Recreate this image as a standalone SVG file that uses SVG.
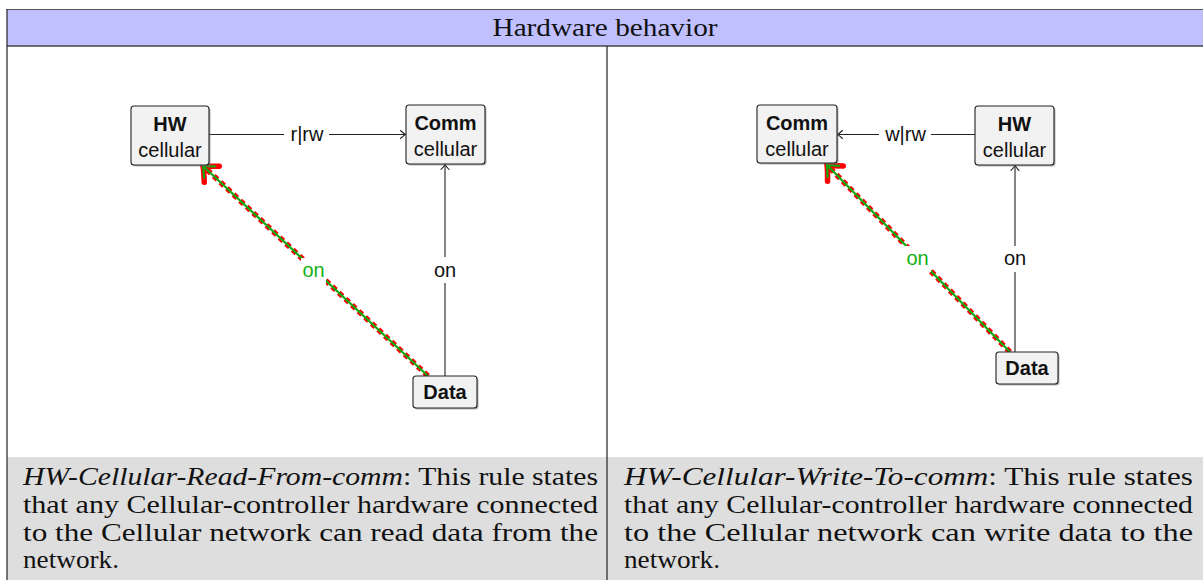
<svg xmlns="http://www.w3.org/2000/svg" width="1203" height="580" viewBox="0 0 1203 580">
<defs>
<style>
.node{fill:#f2f2f2;stroke:#222;stroke-width:1.1}
.shadow{fill:#777;opacity:0.55}
.nt{font-family:"Liberation Sans",Arial,sans-serif;font-size:20px;fill:#111;text-anchor:middle}
.b{font-weight:bold}
.lbl{font-family:"Liberation Sans",Arial,sans-serif;font-size:20px;fill:#111;text-anchor:middle}
.glbl{fill:#14b014}
.edge{fill:none;stroke:#222;stroke-width:1.1}
.red{fill:none;stroke:#ff0000;stroke-width:5.5;stroke-dasharray:5 4}
.grn{fill:none;stroke:#10a810;stroke-width:2.2}
.bg{fill:#ffffff}
.body{font-family:"Liberation Serif","Times New Roman",serif;font-size:26px;fill:#111}
.it{font-style:italic}
</style>
<marker id="ah" viewBox="-8 -6 10 12" markerWidth="10" markerHeight="12" refX="0" refY="0" orient="auto" markerUnits="userSpaceOnUse">
<path d="M -5,-4 Q -1.5,-0.8 0,0 Q -1.5,0.8 -5,4" fill="none" stroke="#222" stroke-width="1.1" stroke-linecap="round"/>
</marker>
<marker id="rh" viewBox="-18 -16 22 32" markerWidth="22" markerHeight="32" refX="0" refY="0" orient="auto" markerUnits="userSpaceOnUse">
<path d="M -12,-11 Q -3,-2 0,0 Q -3,2 -12,11" fill="none" stroke="#ff0000" stroke-width="5.5" stroke-linecap="round"/>
</marker>
<marker id="gh" viewBox="-14 -12 18 24" markerWidth="18" markerHeight="24" refX="0" refY="0" orient="auto" markerUnits="userSpaceOnUse">
<path d="M -9,-8 Q -2,-1.5 0,0 Q -2,1.5 -9,8" fill="none" stroke="#10a810" stroke-width="2.2" stroke-linecap="round"/>
</marker>
</defs>

<rect x="0" y="0" width="1203" height="580" fill="#ffffff"/>

<g id="table">
<rect x="7" y="9.5" width="1200" height="36.5" fill="#c0c0ff"/>
<line x1="7" y1="9.5" x2="1203" y2="9.5" stroke="#555" stroke-width="1.2"/>
<line x1="7" y1="46" x2="1203" y2="46" stroke="#444" stroke-width="1.4"/>
<rect x="7" y="457" width="1200" height="123" fill="#dedede"/>
<line x1="7" y1="9" x2="7" y2="580" stroke="#222" stroke-width="1.2"/>
<line x1="607" y1="46" x2="607" y2="580" stroke="#222" stroke-width="1.2"/>
<text x="605" y="36" class="body" text-anchor="middle" textLength="225" lengthAdjust="spacingAndGlyphs">Hardware behavior</text>
</g>

<g id="captions">
<text x="23" y="485" class="body" textLength="575" lengthAdjust="spacingAndGlyphs"><tspan class="it">HW-Cellular-Read-From-comm</tspan>: This rule states</text>
<text x="23" y="513" class="body" textLength="575" lengthAdjust="spacingAndGlyphs">that any Cellular-controller hardware connected</text>
<text x="23" y="541" class="body" textLength="575" lengthAdjust="spacingAndGlyphs">to the Cellular network can read data from the</text>
<text x="23" y="568" class="body" textLength="96" lengthAdjust="spacingAndGlyphs">network.</text>
<text x="624" y="485" class="body" textLength="569" lengthAdjust="spacingAndGlyphs"><tspan class="it">HW-Cellular-Write-To-comm</tspan>: This rule states</text>
<text x="624" y="513" class="body" textLength="569" lengthAdjust="spacingAndGlyphs">that any Cellular-controller hardware connected</text>
<text x="624" y="541" class="body" textLength="569" lengthAdjust="spacingAndGlyphs">to the Cellular network can write data to the</text>
<text x="624" y="568" class="body" textLength="96" lengthAdjust="spacingAndGlyphs">network.</text>
</g>

<g id="connectors">
<!-- left panel -->
<line class="edge" x1="209" y1="134.5" x2="405.5" y2="134.5" marker-end="url(#ah)"/>
<line class="edge" x1="445" y1="376" x2="445" y2="164.5" marker-end="url(#ah)"/>
<line class="red" x1="428" y1="376" x2="203" y2="166" marker-end="url(#rh)"/>
<line class="grn" x1="428" y1="376" x2="203" y2="166" marker-end="url(#gh)"/>
<rect class="bg" x="284" y="122" width="45" height="24"/>
<text class="lbl" x="307" y="141">r|rw</text>
<rect class="bg" x="433" y="257" width="24" height="26"/>
<text class="lbl" x="445" y="277">on</text>
<rect class="bg" x="301" y="258" width="25" height="27"/>
<text class="lbl glbl" x="313.5" y="277">on</text>
<!-- right panel -->
<line class="edge" x1="975" y1="134.5" x2="837.5" y2="134.5" marker-end="url(#ah)"/>
<line class="edge" x1="1015" y1="352" x2="1015" y2="165.5" marker-end="url(#ah)"/>
<line class="red" x1="1010" y1="352" x2="827" y2="165" marker-end="url(#rh)"/>
<line class="grn" x1="1010" y1="352" x2="827" y2="165" marker-end="url(#gh)"/>
<rect class="bg" x="879" y="122" width="52" height="24"/>
<text class="lbl" x="905.5" y="141">w|rw</text>
<rect class="bg" x="1003" y="246" width="24" height="26"/>
<text class="lbl" x="1015" y="265">on</text>
<rect class="bg" x="904" y="246" width="27" height="26"/>
<text class="lbl glbl" x="917.5" y="265">on</text>
</g>

<g id="node-hw-left">
<rect class="shadow" x="132.5" y="107.5" width="78" height="59" rx="3"/>
<rect class="node" x="131" y="106" width="78" height="59" rx="3"/>
<text class="nt b" x="170" y="131">HW</text>
<text class="nt" x="170" y="157">cellular</text>
</g>
<g id="node-comm-left">
<rect class="shadow" x="407.5" y="106.5" width="79" height="59" rx="3"/>
<rect class="node" x="406" y="105" width="79" height="59" rx="3"/>
<text class="nt b" x="445.5" y="130">Comm</text>
<text class="nt" x="445.5" y="156">cellular</text>
</g>
<g id="node-data-left">
<rect class="shadow" x="414.5" y="377.5" width="64" height="32" rx="3"/>
<rect class="node" x="413" y="376" width="64" height="32" rx="3"/>
<text class="nt b" x="445" y="399">Data</text>
</g>
<g id="node-comm-right">
<rect class="shadow" x="758.5" y="106.5" width="80" height="58" rx="3"/>
<rect class="node" x="757" y="105" width="80" height="58" rx="3"/>
<text class="nt b" x="797" y="130">Comm</text>
<text class="nt" x="797" y="156">cellular</text>
</g>
<g id="node-hw-right">
<rect class="shadow" x="976.5" y="107.5" width="79" height="59" rx="3"/>
<rect class="node" x="975" y="106" width="79" height="59" rx="3"/>
<text class="nt b" x="1014.5" y="131">HW</text>
<text class="nt" x="1014.5" y="157">cellular</text>
</g>
<g id="node-data-right">
<rect class="shadow" x="997.5" y="353.5" width="62" height="32" rx="3"/>
<rect class="node" x="996" y="352" width="62" height="32" rx="3"/>
<text class="nt b" x="1027" y="375">Data</text>
</g>
</svg>
